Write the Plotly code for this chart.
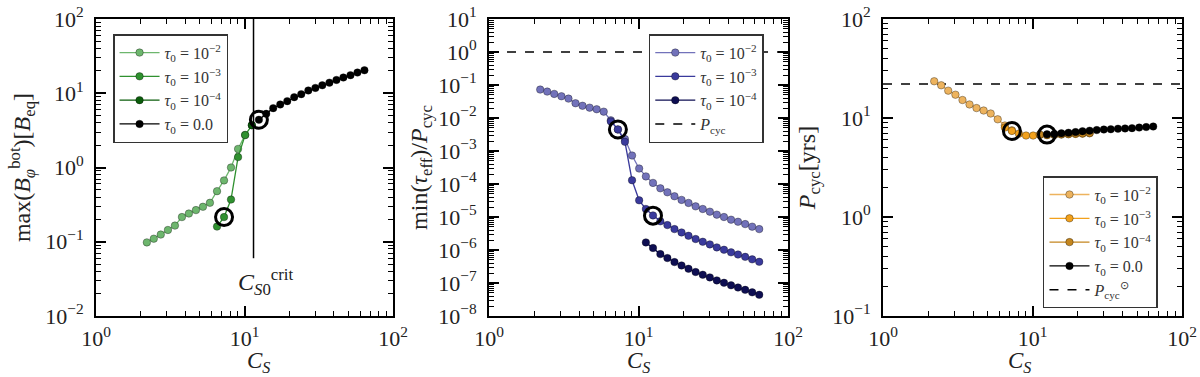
import plotly.graph_objects as go
from plotly.subplots import make_subplots

# shared C_S grid
cs = [2.2, 2.45, 2.73, 3.05, 3.4, 3.79, 4.22, 4.71, 5.25, 5.85, 6.53, 7.28, 8.11, 9.05, 10.1, 11.2,
      12.5, 14.0, 15.6, 17.4, 19.4, 21.6, 24.1, 26.9, 30.0, 33.4, 37.3, 41.6, 46.3, 51.7, 57.6, 64.2]

# panel 1: max(B_phi^bot) [B_eq]
b_tau2 = [0.098, 0.110, 0.125, 0.144, 0.165, 0.215, 0.240, 0.267, 0.296, 0.335, 0.48, 0.67, 1.0, 1.78, 2.75]
b_tau3 = [0.16, 0.215, 0.37, 1.38, 2.73, 3.7]
b_tau4 = [3.72]
b_tau0 = [4.40, 5.28, 6.30, 7.06, 7.83, 8.85, 9.72, 10.9, 11.8, 12.8, 13.9, 15.1, 16.3, 17.5, 19.0, 20.4]
cs0_crit = 11.5
crit_line_y = [0.06, 100]

# panel 2: min(tau_eff)/P_cyc
t_tau2 = [0.0727, 0.0632, 0.0537, 0.0456, 0.0387, 0.028, 0.0235, 0.0206, 0.0184, 0.0156, 0.0085, 0.0045,
          0.0023, 7.3e-4, 2.95e-4, 1.7e-4, 1.08e-4, 7.4e-5, 5.6e-5, 4.25e-5, 3.3e-5, 2.67e-5, 2.1e-5,
          1.75e-5, 1.45e-5, 1.18e-5, 1.0e-5, 8.3e-6, 7.2e-6, 6.1e-6, 5.1e-6, 4.3e-6]
t_tau3 = [0.0079, 0.0045, 0.0019, 1.3e-4, 3.2e-5, 1.75e-5, 1.12e-5, 7.4e-6, 5.7e-6, 4.3e-6, 3.4e-6, 2.7e-6,
          2.15e-6, 1.78e-6, 1.48e-6, 1.2e-6, 1.02e-6, 8.5e-7, 7.3e-7, 6.2e-7, 5.2e-7, 4.4e-7]
t_tau4 = [1.7e-6, 1.15e-6, 7.5e-7, 5.7e-7, 4.3e-7, 3.4e-7, 2.7e-7, 2.15e-7, 1.78e-7, 1.48e-7, 1.2e-7,
          1.02e-7, 8.5e-8, 7.3e-8, 6.2e-8, 5.2e-8, 4.4e-8]
p_cyc_ref = 1.0

# panel 3: P_cyc [yrs]
p_tau2 = [23.5, 21.4, 18.9, 17.2, 15.2, 13.7, 12.6, 11.9, 11.1, 9.7, 8.4, 7.5]
p_tau3 = [8.0, 7.4, 6.95, 6.65, 6.65, 6.75, 6.7, 6.75, 6.8, 6.85, 6.9, 6.95, 7.0]
p_tau4 = [6.8, 6.75, 6.8, 6.85, 6.9, 6.95, 7.0, 7.05]
p_tau0 = [6.85, 6.9, 7.0, 7.1, 7.2, 7.35, 7.45, 7.55, 7.65, 7.7, 7.8, 7.85, 7.9, 8.0, 8.1, 8.2]
p_sun = 22.0

# circled runs
ring_x = [7.28, 12.5]
ring_b = [0.215, 4.4]
ring_t = [0.0045, 1.1e-5]
ring_p = [7.4, 6.8]

x_span = [1, 100]

greens = ['#6db66d', '#2f912f', '#0b5d0b']
blues = ['#7272ba', '#3a3a9c', '#0e0e52']
oranges = ['#edb35e', '#f2a11c', '#c4861f']

FONT = 'Liberation Serif'
tau_lbl = ['<i>τ</i><sub>0</sub> = 10<sup>−2</sup>', '<i>τ</i><sub>0</sub> = 10<sup>−3</sup>',
           '<i>τ</i><sub>0</sub> = 10<sup>−4</sup>', '<i>τ</i><sub>0</sub> = 0.0']

fig = make_subplots(rows=1, cols=3)


def series(x, y, color, name, col, legend, show=True):
    fig.add_trace(go.Scatter(
        x=x, y=y, mode='lines+markers', name=name, legend=legend, showlegend=show,
        line=dict(color=color, width=1.3),
        marker=dict(color=color, size=7.5, line=dict(color='rgba(0,0,0,0.55)', width=0.6)),
    ), row=1, col=col)


def rings(y, col):
    fig.add_trace(go.Scatter(
        x=ring_x, y=y, mode='markers', showlegend=False,
        marker=dict(symbol='circle-open', size=17, color='black', line=dict(width=3, color='black')),
    ), row=1, col=col)


# panel 1
series(cs[0:15], b_tau2, greens[0], tau_lbl[0], 1, 'legend')
series(cs[10:16], b_tau3, greens[1], tau_lbl[1], 1, 'legend')
series(cs[15:16], b_tau4, greens[2], tau_lbl[2], 1, 'legend')
series(cs[16:32], b_tau0, 'black', tau_lbl[3], 1, 'legend')
fig.add_trace(go.Scatter(x=[cs0_crit, cs0_crit], y=crit_line_y, mode='lines', showlegend=False,
                         line=dict(color='black', width=1.5)), row=1, col=1)
rings(ring_b, 1)

# panel 2
fig.add_trace(go.Scatter(x=x_span, y=[p_cyc_ref, p_cyc_ref], mode='lines', name='<i>P</i><sub>cyc</sub>',
                         legend='legend2', legendrank=2000,
                         line=dict(color='black', width=1.5, dash='dash')), row=1, col=2)
series(cs[0:32], t_tau2, blues[0], tau_lbl[0], 2, 'legend2')
series(cs[10:32], t_tau3, blues[1], tau_lbl[1], 2, 'legend2')
series(cs[15:32], t_tau4, blues[2], tau_lbl[2], 2, 'legend2')
rings(ring_t, 2)

# panel 3
fig.add_trace(go.Scatter(x=x_span, y=[p_sun, p_sun], mode='lines',
                         name='<i>P</i><sub>cyc</sub><sup>⊙</sup>',
                         legend='legend3', legendrank=2000,
                         line=dict(color='black', width=1.5, dash='dash')), row=1, col=3)
series(cs[0:12], p_tau2, oranges[0], tau_lbl[0], 3, 'legend3')
series(cs[10:23], p_tau3, oranges[1], tau_lbl[1], 3, 'legend3')
series(cs[15:23], p_tau4, oranges[2], tau_lbl[2], 3, 'legend3')
series(cs[16:32], p_tau0, 'black', tau_lbl[3], 3, 'legend3')
rings(ring_p, 3)


def sup(e):
    return '10<sup>' + str(e).replace('-', '−') + '</sup>'


def minors(lo, hi):
    return [m * 10 ** d for d in range(lo, hi) for m in range(2, 10)]


axis_common = dict(type='log', showline=True, linecolor='black', linewidth=2, mirror='allticks',
                   ticks='inside', ticklen=10, tickwidth=1.5, tickcolor='black', showgrid=False,
                   zeroline=False, tickfont=dict(family=FONT, size=22, color='#222'),
                   automargin=False, ticklabeloverflow='allow')

xdomains = [[0, 0.2735], [0.3619, 0.6372], [0.7247, 1.0]]
yranges = [(-2, 2), (-8, 1), (-1, 2)]
ytitles = ['max(<i>B</i><sub><i>φ</i></sub><sup>bot</sup>)[<i>B</i><sub>eq</sub>]',
           'min(<i>τ</i><sub>eff</sub>)/<i>P</i><sub>cyc</sub>',
           '<i>P</i><sub>cyc</sub>[yrs]']
ystandoff = [8, 4, 10]

notes = [dict(x=1.14, y=-1.544, xref='x', yref='y', showarrow=False,
              text='<i>C</i><sub><i>S</i>0</sub><sup>crit</sup>',
              font=dict(family=FONT, size=24, color='#222'))]

for i in range(3):
    xa = 'xaxis' if i == 0 else 'xaxis%d' % (i + 1)
    ya = 'yaxis' if i == 0 else 'yaxis%d' % (i + 1)
    lo, hi = yranges[i]
    fig.update_layout({
        xa: dict(axis_common, domain=xdomains[i], range=[0, 2], tickvals=[1, 10, 100],
                 ticktext=[sup(0), sup(1), sup(2)], ticklabelstandoff=2,
                 minor=dict(tickmode='array', tickvals=minors(0, 2), ticks='inside', ticklen=5,
                            tickwidth=1.2, tickcolor='black')),
        ya: dict(axis_common, domain=[0, 1], range=[lo, hi], ticklabelstandoff=6,
                 tickvals=[10 ** e for e in range(lo, hi + 1)],
                 ticktext=[sup(e) for e in range(lo, hi + 1)],
                 minor=dict(tickmode='array', tickvals=minors(lo, hi), ticks='inside', ticklen=5,
                            tickwidth=1.2, tickcolor='black'),
                 title=dict(text=ytitles[i], standoff=ystandoff[i],
                            font=dict(family=FONT, size=24, color='#222'))),
    })
    # x title as an annotation so it sits below the tick labels
    notes.append(dict(x=sum(xdomains[i]) / 2, y=-0.154, xref='paper', yref='paper',
                      yanchor='middle', showarrow=False, text='<i>C</i><sub><i>S</i></sub>',
                      font=dict(family=FONT, size=23, color='#222')))

legend_style = dict(bgcolor='white', bordercolor='#333', borderwidth=1.5,
                    font=dict(family=FONT, size=16, color='#333'), xanchor='left', yanchor='top',
                    tracegroupgap=0, itemwidth=40)

fig.update_layout(
    template='none',
    width=1200, height=377,
    margin=dict(l=96, r=18, t=19, b=61),
    plot_bgcolor='white', paper_bgcolor='white',
    legend=dict(legend_style, x=0.0157, y=0.949),
    legend2=dict(legend_style, x=0.509, y=0.949),
    legend3=dict(legend_style, x=0.872, y=0.471),
    annotations=notes,
)

# drop the page's default body margin so the figure sits at the window corner
fig.write_html('out.html', config={'displayModeBar': False},
               post_script="document.body.style.margin='0';")
